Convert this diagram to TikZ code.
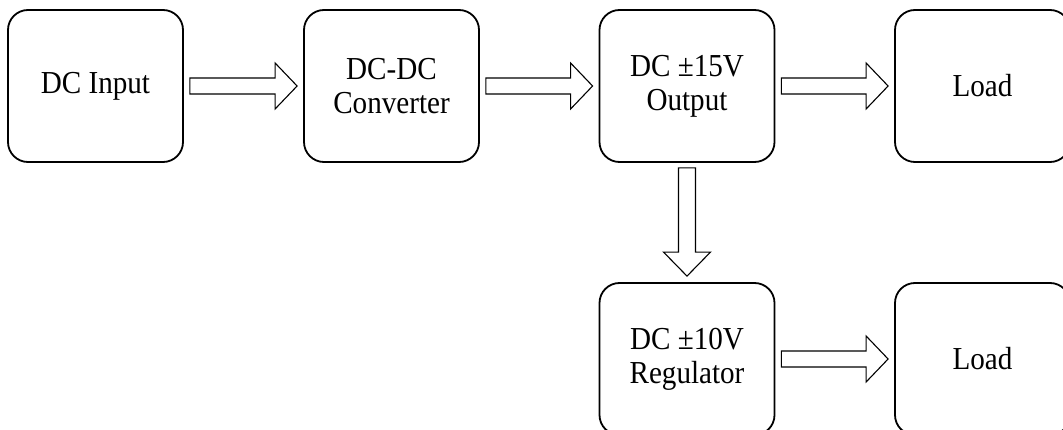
\documentclass[tikz,border=0pt]{standalone}
\usepackage{fontspec}
\setmainfont{Liberation Serif}[FakeStretch=0.91]
\usetikzlibrary{calc}
\newcommand\harr[2]{\draw[barrow] let \p1=($(#1.east)+(6,0)$), \p2=($(#2.west)+(-6,0)$) in
  (\x1,\y1+8pt) -- (\x2-22pt,\y1+8pt) -- (\x2-22pt,\y1+23pt) -- (\x2,\y1) -- (\x2-22pt,\y1-23pt) -- (\x2-22pt,\y1-8pt) -- (\x1,\y1-8pt) -- cycle;}
\newcommand\varr[2]{\draw[barrow] let \p1=($(#1.south)+(0,-5)$), \p2=($(#2.north)+(0,6)$) in
  (\x1-8.5pt,\y1) -- (\x1-8.5pt,\y2+24pt) -- (\x1-23.5pt,\y2+24pt) -- (\x1,\y2) -- (\x1+23.5pt,\y2+24pt) -- (\x1+8.5pt,\y2+24pt) -- (\x1+8.5pt,\y1) -- cycle;}
\begin{document}
\begin{tikzpicture}[x=1pt,y=1pt,
  blk/.style={draw, line width=1.8pt, rounded corners=20pt, minimum width=175pt, minimum height=152pt, align=center, font=\fontsize{32}{34}\selectfont, inner sep=0pt},
  barrow/.style={draw, line width=1.1pt, fill=white, line join=miter}]
\useasboundingbox (0,0) rectangle (1063,429);
\node[blk] (b1) at (95.5,343) {DC Input};
\node[blk] (b2) at (391.5,343) {DC-DC\\Converter};
\node[blk] (b3) at (687,343) {DC ±15V\\Output};
\node[blk] (b4) at (982.5,343) {Load};
\node[blk] (b5) at (687,70) {DC ±10V\\Regulator};
\node[blk] (b6) at (982.5,70) {Load};
\harr{b1}{b2}
\harr{b2}{b3}
\harr{b3}{b4}
\varr{b3}{b5}
\harr{b5}{b6}
\end{tikzpicture}
\end{document}
